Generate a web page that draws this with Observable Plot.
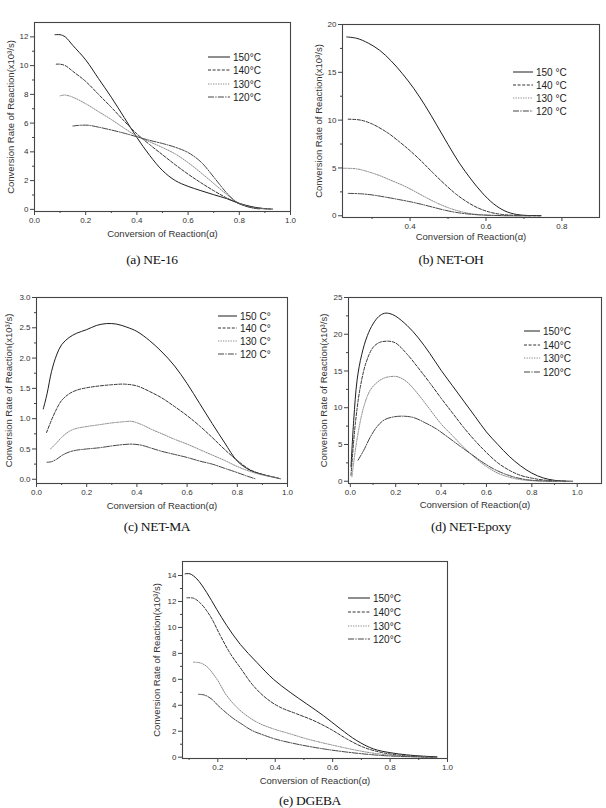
<!DOCTYPE html>
<html>
<head>
<meta charset="utf-8">
<script src="https://cdn.jsdelivr.net/npm/d3@7"></script>
<script src="https://cdn.jsdelivr.net/npm/@observablehq/plot@0.6"></script>
<style>
  body { margin: 0; background: #fff; }
  #fig { position: relative; width: 606px; height: 808px; overflow: hidden; background: #fff; }
  .panel { position: absolute; }
  .cap { position: absolute; font-family: "Liberation Serif", "Times New Roman", serif; font-size: 13.5px; color: #111;
         transform: translate(-50%, -50%); white-space: nowrap; letter-spacing: -0.3px; }
</style>
</head>
<body>
<div id="fig"></div>
<script>
// Isothermal curing temperatures (°C), in legend order
const temps = ["150", "140", "130", "120"];

// Axis titles shared by all panels
const xTitle = "Conversion of Reaction(α)";
const yTitle = "Conversion Rate of Reaction(x10³/s)";

// (a) NE-16 : [conversion α, rate ×10³/s]
const ne16_150 = [[0.08,12.15],[0.1,12.15],[0.12,12.0],[0.15,11.4],[0.2,10.4],[0.25,9.1],[0.3,7.8],[0.35,6.4],[0.4,5.0],[0.45,3.75],[0.5,2.7],[0.55,2.0],[0.6,1.6],[0.65,1.3],[0.7,1.02],[0.75,0.75],[0.8,0.42],[0.85,0.18],[0.9,0.05],[0.93,0.02]];
const ne16_140 = [[0.085,10.1],[0.1,10.1],[0.12,10.0],[0.15,9.6],[0.2,8.9],[0.25,8.0],[0.3,7.1],[0.35,6.15],[0.4,5.25],[0.45,4.5],[0.5,3.8],[0.55,3.1],[0.6,2.45],[0.65,1.85],[0.7,1.3],[0.75,0.8],[0.8,0.4],[0.85,0.15],[0.9,0.04],[0.92,0.02]];
const ne16_130 = [[0.1,7.9],[0.12,7.95],[0.15,7.8],[0.2,7.35],[0.25,6.8],[0.3,6.25],[0.35,5.65],[0.4,5.1],[0.45,4.7],[0.5,4.3],[0.55,3.85],[0.6,3.25],[0.65,2.55],[0.7,1.8],[0.75,1.05],[0.8,0.42],[0.85,0.12],[0.9,0.03],[0.92,0.01]];
const ne16_120 = [[0.15,5.8],[0.18,5.85],[0.21,5.85],[0.25,5.72],[0.3,5.52],[0.35,5.3],[0.4,5.05],[0.45,4.8],[0.5,4.58],[0.55,4.32],[0.6,3.95],[0.65,3.3],[0.7,2.25],[0.75,1.15],[0.78,0.62],[0.8,0.38],[0.85,0.1],[0.88,0.03]];

// (b) NET-OH
const netoh_150 = [[0.233,18.7],[0.26,18.55],[0.29,18.05],[0.32,17.3],[0.35,16.2],[0.38,14.85],[0.41,13.3],[0.44,11.5],[0.47,9.5],[0.5,7.45],[0.53,5.5],[0.56,3.85],[0.59,2.4],[0.62,1.25],[0.65,0.5],[0.68,0.14],[0.71,0.03],[0.745,0.01]];
const netoh_140 = [[0.237,10.1],[0.27,10.0],[0.3,9.6],[0.34,8.7],[0.37,7.8],[0.4,6.8],[0.43,5.7],[0.46,4.5],[0.49,3.35],[0.52,2.3],[0.55,1.45],[0.58,0.8],[0.61,0.38],[0.64,0.15],[0.68,0.04],[0.745,0.0]];
const netoh_130 = [[0.224,4.97],[0.26,4.9],[0.29,4.6],[0.32,4.2],[0.35,3.7],[0.38,3.2],[0.41,2.6],[0.44,1.95],[0.47,1.35],[0.5,0.85],[0.53,0.48],[0.56,0.22],[0.6,0.07],[0.65,0.01],[0.7,0.0]];
const netoh_120 = [[0.237,2.34],[0.27,2.3],[0.3,2.18],[0.34,1.92],[0.37,1.7],[0.4,1.47],[0.43,1.2],[0.46,0.9],[0.49,0.6],[0.52,0.36],[0.55,0.2],[0.58,0.1],[0.62,0.04],[0.66,0.01],[0.72,0.0]];

// (c) NET-MA
const netma_150 = [[0.027,1.16],[0.042,1.41],[0.06,1.78],[0.08,2.05],[0.1,2.22],[0.13,2.34],[0.16,2.41],[0.2,2.47],[0.24,2.54],[0.28,2.57],[0.32,2.56],[0.36,2.51],[0.4,2.44],[0.45,2.29],[0.5,2.1],[0.55,1.87],[0.6,1.58],[0.65,1.25],[0.7,0.92],[0.75,0.6],[0.8,0.3],[0.85,0.15],[0.9,0.08],[0.95,0.03],[0.97,0.01]];
const netma_140 = [[0.04,0.77],[0.06,0.98],[0.08,1.16],[0.1,1.3],[0.13,1.41],[0.16,1.47],[0.2,1.51],[0.25,1.54],[0.3,1.56],[0.35,1.57],[0.4,1.54],[0.45,1.45],[0.5,1.34],[0.55,1.2],[0.6,1.05],[0.65,0.88],[0.7,0.69],[0.75,0.49],[0.8,0.31],[0.85,0.16],[0.9,0.08],[0.95,0.03],[0.97,0.01]];
const netma_130 = [[0.056,0.5],[0.08,0.6],[0.1,0.69],[0.13,0.79],[0.16,0.84],[0.2,0.87],[0.25,0.9],[0.3,0.93],[0.35,0.95],[0.38,0.955],[0.42,0.9],[0.46,0.82],[0.5,0.75],[0.55,0.66],[0.6,0.58],[0.65,0.49],[0.7,0.4],[0.75,0.31],[0.8,0.21],[0.85,0.13],[0.9,0.07],[0.95,0.03],[0.97,0.01]];
const netma_120 = [[0.042,0.28],[0.06,0.29],[0.08,0.33],[0.1,0.39],[0.13,0.45],[0.16,0.48],[0.2,0.5],[0.25,0.52],[0.3,0.55],[0.34,0.57],[0.38,0.58],[0.42,0.56],[0.46,0.51],[0.5,0.46],[0.55,0.41],[0.6,0.36],[0.65,0.3],[0.7,0.25],[0.75,0.18],[0.8,0.11],[0.84,0.05],[0.87,0.01]];

// (d) NET-Epoxy
const netep_150 = [[0.003,1.95],[0.015,8.3],[0.03,13.8],[0.05,17.2],[0.075,19.8],[0.1,21.4],[0.125,22.4],[0.15,22.85],[0.175,22.8],[0.2,22.45],[0.25,21.2],[0.3,19.5],[0.35,17.4],[0.4,15.1],[0.45,13.0],[0.5,10.9],[0.55,8.8],[0.6,6.7],[0.65,5.0],[0.7,3.4],[0.75,2.1],[0.8,1.1],[0.85,0.45],[0.9,0.12],[0.95,0.02],[0.98,0.0]];
const netep_140 = [[0.003,0.8],[0.022,7.8],[0.044,12.8],[0.07,16.2],[0.1,18.2],[0.13,18.9],[0.17,19.05],[0.2,18.8],[0.25,17.3],[0.3,15.4],[0.35,13.4],[0.4,11.3],[0.45,9.3],[0.5,7.3],[0.55,5.5],[0.6,3.9],[0.65,2.5],[0.7,1.5],[0.75,0.8],[0.8,0.42],[0.85,0.17],[0.9,0.05],[0.95,0.0]];
const netep_130 = [[0.007,0.6],[0.029,5.6],[0.059,10.1],[0.088,12.4],[0.12,13.5],[0.15,14.05],[0.18,14.25],[0.21,14.2],[0.25,13.5],[0.3,11.8],[0.35,9.8],[0.4,7.8],[0.45,6.2],[0.5,4.6],[0.55,3.2],[0.6,2.0],[0.65,1.1],[0.7,0.55],[0.75,0.22],[0.8,0.07],[0.85,0.02],[0.92,0.0]];
const netep_120 = [[0.034,2.86],[0.059,4.2],[0.088,6.0],[0.117,7.4],[0.15,8.35],[0.19,8.75],[0.235,8.85],[0.28,8.65],[0.33,7.95],[0.38,7.1],[0.43,6.0],[0.48,4.85],[0.53,3.75],[0.58,2.65],[0.63,1.7],[0.68,1.0],[0.73,0.5],[0.78,0.2],[0.83,0.06],[0.88,0.01],[0.91,0.0]];

// (e) DGEBA
const dgeba_150 = [[0.086,14.13],[0.103,14.13],[0.127,13.74],[0.161,12.7],[0.196,11.4],[0.231,10.15],[0.278,8.7],[0.336,7.3],[0.394,6.0],[0.452,5.0],[0.51,4.1],[0.568,3.2],[0.626,2.2],[0.684,1.28],[0.742,0.64],[0.8,0.35],[0.858,0.18],[0.916,0.08],[0.963,0.03]];
const dgeba_140 = [[0.092,12.28],[0.115,12.25],[0.138,11.9],[0.173,10.9],[0.208,9.4],[0.243,8.0],[0.278,6.9],[0.324,5.5],[0.371,4.5],[0.417,3.85],[0.475,3.34],[0.533,2.83],[0.591,2.18],[0.649,1.41],[0.707,0.77],[0.765,0.39],[0.823,0.18],[0.893,0.05],[0.963,0.0]];
const dgeba_130 = [[0.115,7.32],[0.138,7.27],[0.161,7.0],[0.196,6.04],[0.231,4.75],[0.278,3.6],[0.336,2.7],[0.394,2.18],[0.452,1.8],[0.51,1.41],[0.58,1.03],[0.649,0.69],[0.719,0.39],[0.789,0.18],[0.858,0.08],[0.928,0.03]];
const dgeba_120 = [[0.133,4.85],[0.155,4.78],[0.18,4.45],[0.2,4.0],[0.22,3.6],[0.25,3.05],[0.28,2.6],[0.32,2.05],[0.36,1.7],[0.4,1.4],[0.46,1.08],[0.52,0.82],[0.58,0.6],[0.64,0.42],[0.7,0.27],[0.76,0.15],[0.82,0.07],[0.88,0.03],[0.95,0.0]];

// Line style per temperature
const lineStyle = {
  "150": {stroke: "#1e1e1e", dash: null},
  "140": {stroke: "#333", dash: "3,1.6"},
  "130": {stroke: "#8a8a8a", dash: "1.3,1.2"},
  "120": {stroke: "#454545", dash: "6,1.3,1.3,1.3"}
};

const range = (a, b, s) => d3.range(a, b + s / 2, s).map(v => +v.toFixed(3));

const panels = [
  { id: "a", caption: "(a) NE-16", capX: 152, capY: 260,
    left: 0, top: 0, width: 300, height: 245, m: [22, 10, 34, 34],
    xDomain: [0, 1], yDomain: [-0.15, 13],
    xMajor: range(0, 1, 0.2), xMinor: range(0.1, 0.9, 0.2), xFmt: d3.format(".1f"),
    yMajor: range(0, 12, 2), yMinor: range(1, 11, 2), yFmt: d3.format("d"),
    xTitleDy: 25, yTitleDx: -24,
    series: [ne16_150, ne16_140, ne16_130, ne16_120],
    legend: {x0: 208, x1: 230, tx: 233, ys: [57, 70, 84, 97]}, fmt: t => `${t}°C` },
  { id: "b", caption: "(b) NET-OH", capX: 451, capY: 260,
    left: 300, top: 0, width: 306, height: 245, m: [24, 7, 28, 42],
    xDomain: [0.222, 0.899], yDomain: [-0.18, 20],
    xMajor: [0.4, 0.6, 0.8], xMinor: [0.3, 0.5, 0.7], xFmt: d3.format(".1f"),
    yMajor: range(0, 20, 5), yMinor: range(2.5, 17.5, 5), yFmt: d3.format("d"),
    xTitleDy: 22, yTitleDx: -24,
    series: [netoh_150, netoh_140, netoh_130, netoh_120],
    legend: {x0: 213, x1: 233, tx: 236, ys: [72, 85, 98, 111]}, fmt: t => `${t} °C` },
  { id: "c", caption: "(c) NET-MA", capX: 157, capY: 527,
    left: 0, top: 280, width: 300, height: 230, m: [17, 13, 27, 36],
    xDomain: [0, 1], yDomain: [-0.07, 3.0],
    xMajor: range(0, 1, 0.2), xMinor: range(0.1, 0.9, 0.2), xFmt: d3.format(".1f"),
    yMajor: range(0, 3, 0.5), yMinor: range(0.25, 2.75, 0.5), yFmt: d3.format(".1f"),
    xTitleDy: 25, yTitleDx: -28,
    series: [netma_150, netma_140, netma_130, netma_120],
    legend: {x0: 218, x1: 237, tx: 240, ys: [36, 48, 61, 74]}, fmt: t => `${t} C°` },
  { id: "d", caption: "(d) NET-Epoxy", capX: 471, capY: 527,
    left: 300, top: 280, width: 306, height: 230, m: [17, 5, 27, 48],
    xDomain: [-0.008, 1.107], yDomain: [-0.31, 25],
    xMajor: range(0, 1, 0.2), xMinor: range(0.1, 0.9, 0.2), xFmt: d3.format(".1f"),
    yMajor: range(0, 25, 5), yMinor: range(2.5, 22.5, 5), yFmt: d3.format("d"),
    xTitleDy: 24, yTitleDx: -25,
    series: [netep_150, netep_140, netep_130, netep_120],
    legend: {x0: 224, x1: 240, tx: 243, ys: [51, 65, 78, 92]}, fmt: t => `${t}°C` },
  { id: "e", caption: "(e) DGEBA", capX: 310, capY: 801,
    left: 140, top: 555, width: 330, height: 253, m: [6, 23, 50, 42],
    xDomain: [0.077, 1.0], yDomain: [-0.1, 15.08],
    xMajor: range(0.2, 1, 0.2), xMinor: range(0.1, 0.9, 0.2), xFmt: d3.format(".1f"),
    yMajor: range(0, 14, 2), yMinor: range(1, 13, 2), yFmt: d3.format("d"),
    xTitleDy: 25.5, yTitleDx: -25.5,
    series: [dgeba_150, dgeba_140, dgeba_130, dgeba_120],
    legend: {x0: 208, x1: 230, tx: 233, ys: [43, 57, 71, 84]}, fmt: t => `${t}°C` }
];

const fig = document.getElementById("fig");
const axisColor = "#444";
const textColor = "#333";

for (const p of panels) {
  const [mt, mr, mb, ml] = p.m;
  const curves = p.series.map((pts, i) => {
    const s = lineStyle[temps[i]];
    return Plot.line(pts, {
      x: d => d[0], y: d => d[1], curve: "catmull-rom",
      stroke: s.stroke, strokeWidth: 1, strokeDasharray: s.dash
    });
  });

  const svg = Plot.plot({
    width: p.width, height: p.height,
    marginTop: mt, marginRight: mr, marginBottom: mb, marginLeft: ml,
    x: {domain: p.xDomain},
    y: {domain: p.yDomain},
    style: {fontFamily: "'Liberation Sans', Arial, sans-serif", fontSize: "8px", color: textColor, background: "transparent", overflow: "visible"},
    marks: [
      Plot.axisX({ticks: p.xMinor, tickSize: 2, tickFormat: () => "", stroke: axisColor, label: null}),
      Plot.axisX({ticks: p.xMajor, tickSize: 4, tickPadding: 1.5, tickFormat: p.xFmt, stroke: axisColor, fill: textColor, label: null}),
      Plot.axisY({ticks: p.yMinor, tickSize: 2, tickFormat: () => "", stroke: axisColor, label: null}),
      Plot.axisY({ticks: p.yMajor, tickSize: 4, tickPadding: 2, tickFormat: p.yFmt, stroke: axisColor, fill: textColor, label: null}),
      ...curves,
      Plot.frame({stroke: axisColor, strokeWidth: 1.1}),
      Plot.text([xTitle], {text: d => d, frameAnchor: "bottom", dy: p.xTitleDy, fontSize: 9.5, fill: textColor}),
      Plot.text([yTitle], {text: d => d, frameAnchor: "left", rotate: -90, textAnchor: "middle", dx: p.yTitleDx, fontSize: 9.5, fill: textColor})
    ]
  });

  // Legend: sample line and temperature label for each series
  const g = d3.select(svg).append("g").attr("class", "legend").attr("text-anchor", "start");
  temps.forEach((t, i) => {
    const s = lineStyle[t];
    const y = p.legend.ys[i];
    g.append("line")
      .attr("x1", p.legend.x0).attr("x2", p.legend.x1)
      .attr("y1", y).attr("y2", y)
      .attr("stroke", s.stroke).attr("stroke-width", 1)
      .attr("stroke-dasharray", s.dash);
    g.append("text")
      .attr("x", p.legend.tx).attr("y", y).attr("dy", "0.35em")
      .attr("text-anchor", "start")
      .attr("font-size", 10).attr("fill", "#222")
      .text(p.fmt(t));
  });

  const holder = document.createElement("div");
  holder.className = "panel";
  holder.style.left = p.left + "px";
  holder.style.top = p.top + "px";
  holder.appendChild(svg);
  fig.appendChild(holder);

  const cap = document.createElement("div");
  cap.className = "cap";
  cap.style.left = p.capX + "px";
  cap.style.top = p.capY + "px";
  cap.textContent = p.caption;
  fig.appendChild(cap);
}
</script>
</body>
</html>
